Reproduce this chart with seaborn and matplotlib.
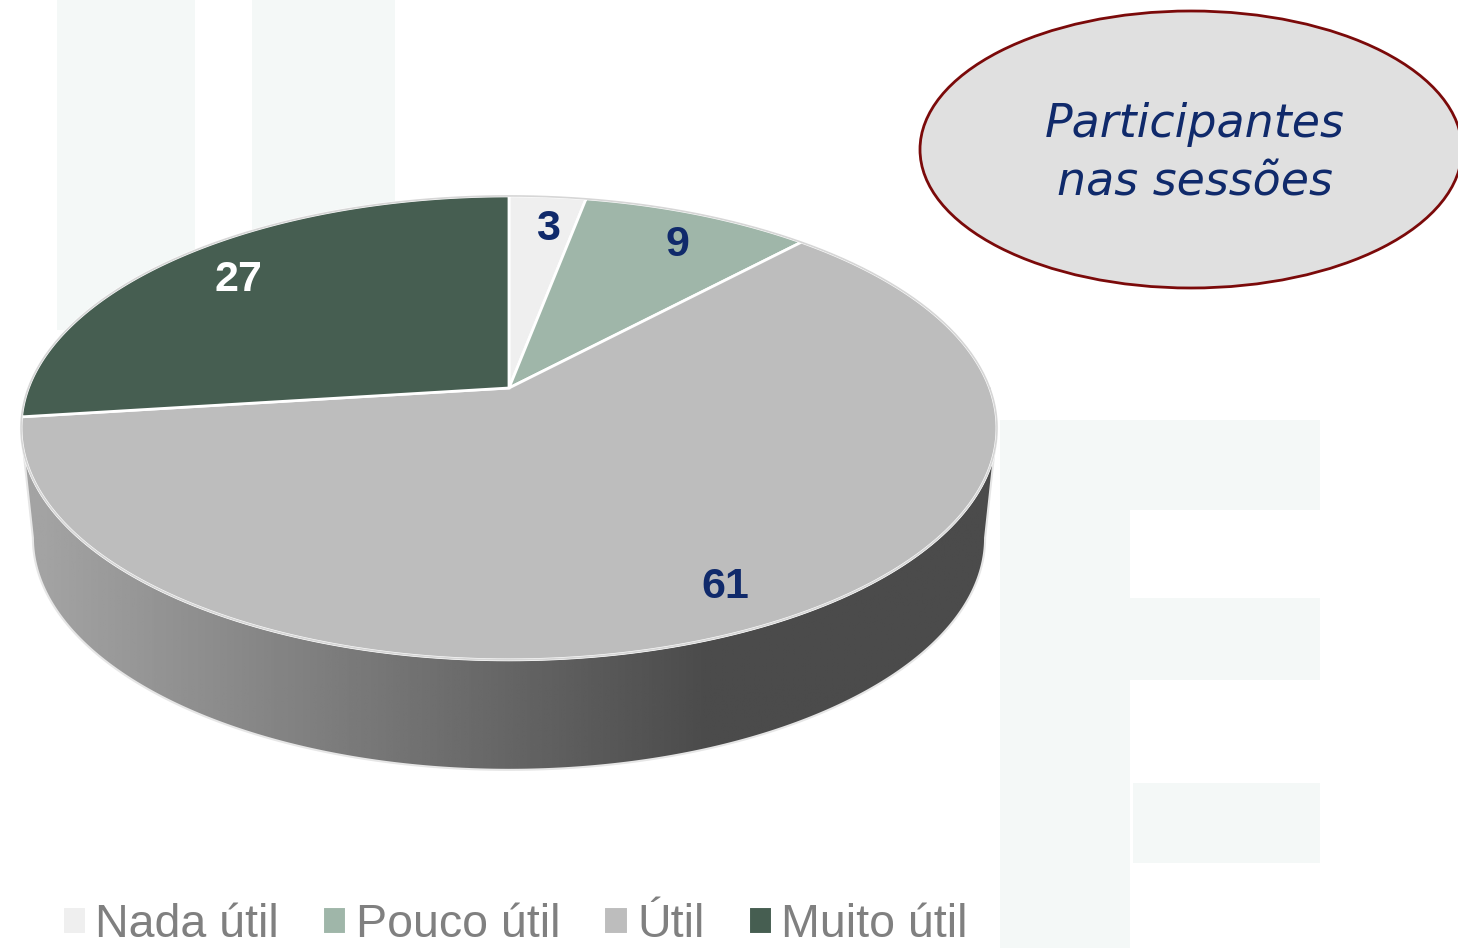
import numpy as np
import matplotlib
matplotlib.use("Agg")
import matplotlib.pyplot as plt
import seaborn as sns
from matplotlib.patches import Polygon, Ellipse, Rectangle, Patch

# data
categories = ["Nada útil", "Pouco útil", "Útil", "Muito útil"]
values = [3, 9, 61, 27]
slice_colors = ["#efefef", "#9fb6a9", "#bdbdbd", "#465e51"]
label_colors = ["#102a6b", "#102a6b", "#102a6b", "#ffffff"]
annotation = "Participantes\nnas sessões"

sns.set_style("white")
plt.rcParams["font.family"] = ["DejaVu Sans"]

W, H = 1458, 948
fig = plt.figure(figsize=(W / 100, H / 100), dpi=100)
ax = fig.add_axes([0, 0, 1, 1])
ax.set_xlim(0, W)
ax.set_ylim(H, 0)
ax.axis("off")

# faint watermark letters in the background
wm = "#f4f8f7"
for x0, y0, w, h in [(57, 0, 138, 330), (252, 0, 143, 330),
                     (1000, 420, 130, 528), (1000, 420, 320, 90),
                     (1000, 598, 320, 82), (1133, 783, 187, 80)]:
    ax.add_patch(Rectangle((x0, y0), w, h, color=wm, lw=0, zorder=0))

# perspective projection of the pie disc
CX, CY, R, S, K = 509, 388, 480.7, 225.1, 0.172
DEPTH, RB = 110, 469
LABEL_R = 0.84


def proj(u, v, cy=CY, r=R):
    d = 1 + K * v
    return CX + r * u / d, cy - S * v / d


# side of the pie (only the front is visible)
a0 = np.arcsin(K)
phi = np.linspace(np.pi + a0, 2 * np.pi - a0, 300)
tx, ty = proj(np.cos(phi), np.sin(phi))
bx, by = proj(np.cos(phi[::-1]), np.sin(phi[::-1]), CY + DEPTH, RB)
side = np.column_stack([np.r_[tx, bx], np.r_[ty, by]])
side_patch = Polygon(side, closed=True, facecolor="none",
                     edgecolor="#e6e6e6", lw=1.5, zorder=2)
ax.add_patch(side_patch)
xs = np.linspace(0, 1, 400)
px = side[:, 0].min() + xs * (side[:, 0].max() - side[:, 0].min())
shade = np.clip(0.64 - 0.132 / 255 * (px - 40), 0.295, 0.64)
grad = np.tile(shade, (2, 1))
img = ax.imshow(grad, cmap="gray", vmin=0, vmax=1, aspect="auto",
                extent=[px.min(), px.max(), side[:, 1].max(), side[:, 1].min()],
                zorder=1)
img.set_clip_path(side_patch)

# top of the pie: slices clockwise from 12 o'clock
fr = np.array(values) / np.sum(values)
starts = np.r_[0, np.cumsum(fr)[:-1]] * 2 * np.pi
ends = np.cumsum(fr) * 2 * np.pi
for s0, s1, col in zip(starts, ends, slice_colors):
    t = np.linspace(s0, s1, 200)
    m = np.pi / 2 - t
    x, y = proj(np.cos(m), np.sin(m))
    pts = np.column_stack([np.r_[CX, x], np.r_[CY, y]])
    ax.add_patch(Polygon(pts, closed=True, facecolor=col,
                         edgecolor="white", lw=2, zorder=3))

# outer rim
t = np.linspace(0, 2 * np.pi, 400)
rx, ry = proj(np.cos(t), np.sin(t))
ax.plot(rx, ry, color="#d6d6d6", lw=1.2, zorder=4)

# value labels
for s0, s1, val, lc in zip(starts, ends, values, label_colors):
    m = np.pi / 2 - (s0 + s1) / 2
    lx, ly = proj(LABEL_R * np.cos(m), LABEL_R * np.sin(m))
    ax.text(lx + 6, ly + 6, str(val), ha="center", va="center", color=lc,
            fontsize=31, fontweight="bold",
            family=["Liberation Sans", "DejaVu Sans"], zorder=5)

# annotation bubble
ax.add_patch(Ellipse((1191, 149.5), 542, 277, facecolor="#e0e0e0",
                     edgecolor="#7b0a0a", lw=2, zorder=3))
ax.text(1195, 154, annotation, ha="center", va="center", color="#102a6b",
        fontsize=33, style="italic", linespacing=1.38, zorder=4)

# legend
handles = [Patch(facecolor=c, edgecolor="white", lw=1.5) for c in slice_colors]
leg = ax.legend(handles, categories, loc="center left",
                bbox_to_anchor=(0.043, 0.024), ncol=4, frameon=False,
                handlelength=0.5, handleheight=0.5,
                handletextpad=0.2, columnspacing=0.95, borderaxespad=0,
                borderpad=0,
                prop={"family": ["Liberation Sans", "DejaVu Sans"], "size": 33.5})
for tx_ in leg.get_texts():
    tx_.set_color("#808080")

fig.savefig("out.png", dpi=100, facecolor="white")
